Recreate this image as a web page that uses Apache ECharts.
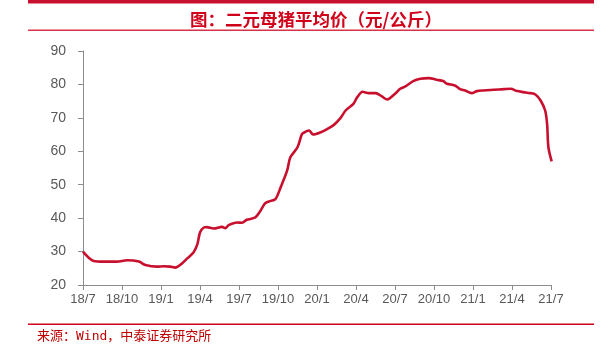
<!DOCTYPE html>
<html><head><meta charset="utf-8">
<script src="https://cdn.jsdelivr.net/npm/echarts@6/dist/echarts.min.js"></script>
<style>html,body{margin:0;padding:0;background:#fff}#c{width:614px;height:356px}</style>
</head><body><div id="c"></div>
<script>
// month index: 0 = 2018/7, 36 = 2021/7
const months = [0,0.82,1.59,2.6,3.4,4.3,4.8,5.7,6.2,6.7,7.1,7.6,8.0,8.5,8.8,9.0,9.3,9.5,10.05,10.7,10.95,11.2,11.85,12.2,12.6,13.25,13.6,14.0,14.3,14.8,15.2,15.7,15.95,16.5,16.85,17.1,17.4,17.7,18.25,18.8,19.3,19.8,20.2,20.8,21.1,21.5,22.0,22.5,23.0,23.4,24.0,24.4,24.8,25.4,25.95,26.6,27.2,27.7,28.0,28.6,29.0,29.4,29.9,30.3,30.8,31.6,32.4,32.9,33.4,33.9,34.4,34.8,35.2,35.55,35.7,35.8,36.05];
const prices = [30.0,27.2,27.0,27.0,27.4,27.0,26.0,25.5,25.6,25.5,25.2,26.4,27.9,29.7,32.2,35.7,37.2,37.3,36.9,37.4,37.0,37.9,38.7,38.6,39.5,40.2,41.9,44.4,45.0,45.7,49.2,54.2,58.2,61.2,65.2,65.8,66.2,65.0,65.6,66.7,67.9,69.9,72.2,74.2,76.2,77.8,77.4,77.4,76.4,75.5,77.2,78.7,79.4,81.0,81.7,81.9,81.4,81.0,80.2,79.7,78.6,78.2,77.4,78.0,78.2,78.4,78.6,78.7,78.0,77.7,77.4,77.0,75.2,72.2,68.2,61.2,57.0];
const tickLabels = ['18/7','18/10','19/1','19/4','19/7','19/10','20/1','20/4','20/7','20/10','21/1','21/4','21/7'];
const titleText = '图：二元母猪平均价（元/公斤）';
const sourceText = '来源：Wind，中泰证券研究所';

const chart = echarts.init(document.getElementById('c'));
const red = '#C8102E';
chart.setOption({
  animation: false,
  backgroundColor: '#fff',
  title: {
    text: titleText, left: 311, top: 6, textAlign: 'center',
    textStyle: {color: '#D0021B', fontSize: 17.5, fontWeight: 'bold', fontFamily: 'Noto Sans CJK SC'}
  },
  grid: {left: 83, right: 63, top: 51, bottom: 71},
  xAxis: {
    type: 'value', min: 0, max: 36, interval: 3,
    axisLine: {lineStyle: {color: '#8c8c8c', width: 1}},
    axisTick: {show: true, length: 5, lineStyle: {color: '#8c8c8c'}},
    splitLine: {show: false},
    axisLabel: {color: '#595959', fontSize: 13, fontFamily: 'Liberation Sans', margin: 8,
      formatter: v => tickLabels[Math.round(v / 3)] || ''}
  },
  yAxis: {
    type: 'value', min: 20, max: 90, interval: 10,
    axisLine: {show: true, lineStyle: {color: '#8c8c8c', width: 1}},
    axisTick: {show: true, length: 5, lineStyle: {color: '#8c8c8c'}},
    splitLine: {show: false},
    axisLabel: {color: '#595959', fontSize: 14, fontFamily: 'Liberation Sans', margin: 17}
  },
  series: [{
    type: 'line', data: months.map((m, i) => [m, prices[i]]),
    showSymbol: false, smooth: 0.3,
    lineStyle: {color: red, width: 2.6}
  }],
  graphic: [
    {type: 'rect', shape: {x: 28, y: 0, width: 566, height: 3.5}, style: {fill: '#C8102E'}},
    {type: 'rect', shape: {x: 28, y: 29.5, width: 566, height: 1.5}, style: {fill: '#D8324A'}},
    {type: 'rect', shape: {x: 28, y: 323.5, width: 566, height: 1.5}, style: {fill: '#D0021B'}},
    {type: 'text', left: 37, top: 330, style: {text: sourceText, fill: '#C00000', fontSize: 13,
      fontFamily: 'DejaVu Sans Mono, Noto Sans CJK SC'}}
  ]
});
</script></body></html>
